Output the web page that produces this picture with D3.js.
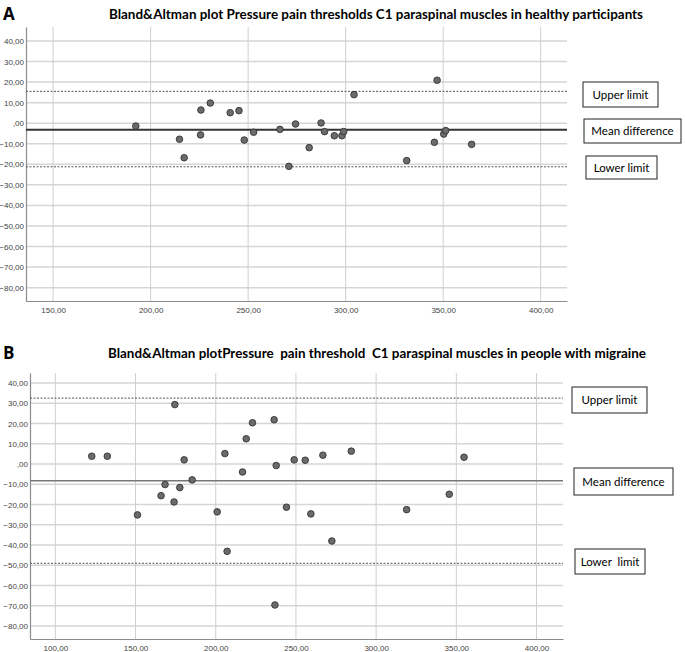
<!DOCTYPE html>
<html><head><meta charset="utf-8">
<script src="https://cdn.jsdelivr.net/npm/d3@7"></script>
<style>body{margin:0;background:#fff}svg{display:block}</style>
</head><body>
<svg id="c" width="685" height="652"></svg>
<script>
// ---- Data ----
const yTicks = [40,30,20,10,0,-10,-20,-30,-40,-50,-60,-70,-80];
const xTicksA = [150,200,250,300,350,400];
const xTicksB = [100,150,200,250,300,350,400];
const titleA = "Bland&Altman plot Pressure pain thresholds C1 paraspinal muscles in healthy participants";
const titleB = "Bland&Altman plotPressure  pain threshold  C1 paraspinal muscles in people with migraine";
const meanA = [192.4,214.8,217.2,225.8,225.6,230.6,240.8,245.3,248.0,252.8,266.3,270.9,274.3,281.3,287.4,289.2,294.2,298.1,299.0,304.3,331.3,345.5,346.9,350.3,351.3,364.6];
const diffA = [-1.4,-7.8,-16.8,6.4,-5.7,9.8,5.1,6.1,-8.2,-4.4,-3.0,-21.0,-0.4,-11.9,0.1,-4.1,-6.1,-6.1,-4.1,13.9,-18.2,-9.3,20.9,-5.3,-3.6,-10.3];
const meanB = [122.7,132.4,151.2,165.9,168.4,174.0,174.5,177.6,180.3,185.3,200.9,205.7,207.1,216.7,219.0,222.9,236.4,237.7,236.9,244.1,248.9,255.8,259.3,266.8,272.4,284.5,319.0,345.6,354.8];
const diffB = [3.9,3.9,-25.1,-15.6,-10.1,-18.7,29.4,-11.6,2.1,-7.8,-23.6,5.2,-43.1,-3.9,12.5,20.4,21.9,-0.7,-69.6,-21.3,2.1,1.9,-24.6,4.4,-38.0,6.4,-22.5,-14.9,3.4];
const limitsA = {upper:15.5, mean:-3.2, lower:-21.2};
const limitsB = {upper:32.6, mean:-8.2, lower:-49.0};
const legendA = ["Upper limit","Mean difference","Lower limit"];
const legendB = ["Upper limit","Mean difference","Lower  limit"];

const svg = d3.select("#c");
const fmt = v => (v===0 ? ",00" : d3.format(".2f")(v).replace(".",","));

function panel(cfg){
  const g = svg.append("g");
  const x = d3.scaleLinear().domain(cfg.xDom).range([cfg.left, cfg.right]);
  const y = d3.scaleLinear().domain(cfg.yDom).range([cfg.bottom, cfg.top]);
  // letter + title
  g.append("text").attr("x",cfg.letterX).attr("y",cfg.titleY+1).text(cfg.letter)
    .attr("font-family","Open Sans, Lato, sans-serif").attr("font-weight","bold").attr("font-size",17).attr("fill","#000");
  g.append("text").attr("x",cfg.titleX).attr("y",cfg.titleY).text(cfg.title)
    .attr("font-family","Lato, Open Sans, sans-serif").attr("font-weight","bold").attr("font-size",13)
    .attr("textLength",cfg.titleW).attr("lengthAdjust","spacingAndGlyphs").attr("fill","#000")
    .style("white-space","pre");
  // horizontal grid
  g.append("g").selectAll("line").data(yTicks).join("line")
    .attr("x1",cfg.left).attr("x2",cfg.right).attr("y1",d=>y(d)).attr("y2",d=>y(d))
    .attr("stroke","#d6d6d6").attr("stroke-width",1.5);
  // vertical grid
  g.append("g").selectAll("line").data(cfg.xTicks).join("line")
    .attr("x1",d=>x(d)).attr("x2",d=>x(d)).attr("y1",cfg.top).attr("y2",cfg.bottom)
    .attr("stroke","#cfcfcf").attr("stroke-width",1);
  // axes
  const ax = d3.axisBottom(x).tickValues(cfg.xTicks).tickFormat(fmt).tickSize(0).tickPadding(6);
  const ay = d3.axisLeft(y).tickValues(yTicks).tickFormat(fmt).tickSize(0).tickPadding(2);
  const gx = g.append("g").attr("transform",`translate(0,${cfg.bottom})`).call(ax);
  const gy = g.append("g").attr("transform",`translate(${cfg.left},0)`).call(ay);
  [gx,gy].forEach(a=>{
    a.select(".domain").attr("stroke","#8c8c8c").attr("stroke-width",1.2);
    a.selectAll("text").attr("font-family","Liberation Sans, Arial, sans-serif").attr("font-size",8).attr("fill","#444");
  });
  gy.selectAll("text").attr("dy","0.32em");
  // reference lines
  const L = cfg.limits;
  ["upper","lower"].forEach(k=>{
    g.append("line").attr("x1",cfg.left).attr("x2",cfg.right).attr("y1",y(L[k])).attr("y2",y(L[k]))
      .attr("stroke","#555").attr("stroke-width",1).attr("stroke-dasharray","2,1.5");
  });
  g.append("line").attr("x1",cfg.left).attr("x2",cfg.right).attr("y1",y(L.mean)).attr("y2",y(L.mean))
    .attr("stroke",cfg.meanColor).attr("stroke-width",cfg.meanWidth);
  // points
  g.append("g").selectAll("circle").data(cfg.xs.map((v,i)=>[v,cfg.ys[i]])).join("circle")
    .attr("cx",d=>x(d[0])).attr("cy",d=>y(d[1])).attr("r",3.3)
    .attr("fill","#6b6b6b").attr("stroke","#333").attr("stroke-width",0.9);
  // legend boxes
  cfg.boxes.forEach((b,i)=>{
    g.append("rect").attr("x",b[0]).attr("y",b[1]).attr("width",b[2]).attr("height",b[3])
      .attr("fill","#fff").attr("stroke","#222").attr("stroke-width",1);
    g.append("text").attr("x",b[0]+b[2]/2).attr("y",b[1]+b[3]/2).attr("dy","0.35em")
      .attr("text-anchor","middle").text(cfg.legend[i]).style("white-space","pre")
      .attr("font-family","Lato, Open Sans, sans-serif").attr("font-size",11.5).attr("fill","#000");
  });
}

panel({
  letter:"A", letterX:3, titleX:109, titleY:19, titleW:534, title:titleA,
  xDom:[136.1,413.5], yDom:[-86.5,46.8], left:26, right:567, top:27, bottom:301,
  xTicks:xTicksA, xs:meanA, ys:diffA, limits:limitsA, meanColor:"#333", meanWidth:2,
  legend:legendA, boxes:[[583,82,75,25],[584,119,97,24],[586,156,71,23]]
});
panel({
  letter:"B", letterX:3, titleX:108, titleY:358, titleW:538, title:titleB,
  xDom:[84.2,416.5], yDom:[-86.4,45.0], left:30, right:563, top:373, bottom:639,
  xTicks:xTicksB, xs:meanB, ys:diffB, limits:limitsB, meanColor:"#777", meanWidth:1.5,
  legend:legendB, boxes:[[572,387,75,26],[574,468,99,27],[575,549,70,25]]
});
</script>
</body></html>
